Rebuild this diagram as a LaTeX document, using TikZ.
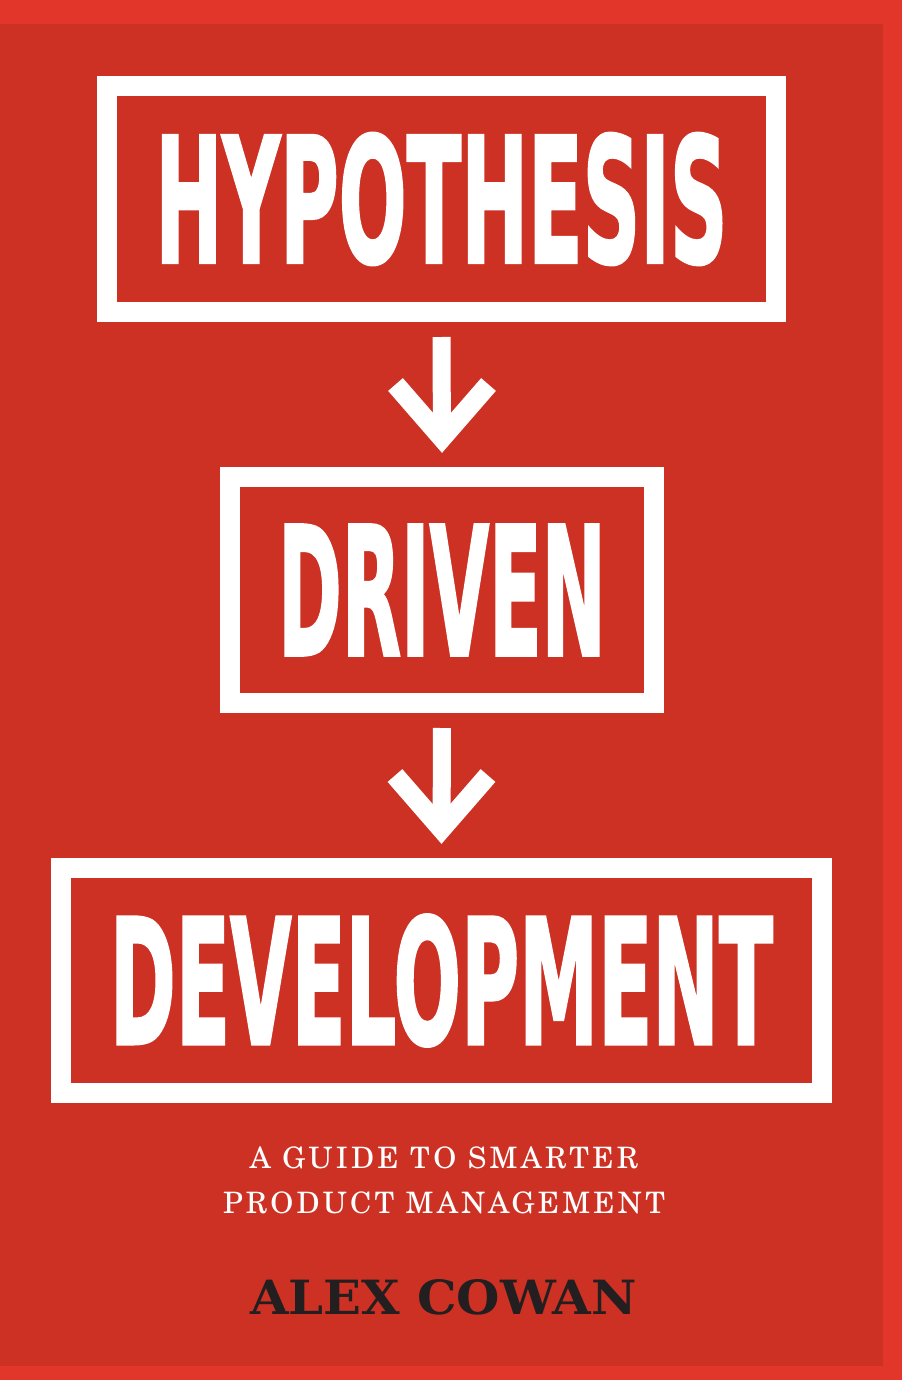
\documentclass[tikz,border=0pt]{standalone}
\usepackage{fontspec}
\usepackage{graphicx}
\usepackage{tikz}
\usetikzlibrary{calc}
\newfontfamily\titlefont{DejaVu Sans}[BoldFeatures={FakeBold=2}]
\newfontfamily\subfont{texgyreschola-regular.otf}[LetterSpace=11]
\newfontfamily\namefont{DejaVu Serif}
\definecolor{edge}{HTML}{E2362A}
\definecolor{cover}{HTML}{CD3124}
\definecolor{ink}{HTML}{231F20}
\newcommand{\boxtext}[3]{\resizebox{#1pt}{#2pt}{\titlefont\bfseries #3}}
\tikzset{
  titlebox/.style={draw=white, line width=20pt, inner sep=0pt, text=white},
  shaft/.style={draw=white, line width=18pt, shorten <=15pt, shorten >=35pt},
  chev/.style={draw=white, line width=19.5pt, line join=miter},
  sub/.style={text=white, font=\subfont\fontsize{29.5}{36}\selectfont, anchor=base},
  authorname/.style={text=ink, anchor=base, inner sep=0pt}
}

\begin{document}
\begin{tikzpicture}[x=1pt, y=-1pt]
\useasboundingbox (0,0) rectangle (902,1380);
\fill[edge] (0,0) rectangle (902,1380);
\fill[cover] (0,24) rectangle (883,1366);

\node[titlebox, minimum width=669pt, minimum height=226pt] (hyp) at (441.5,199) {\boxtext{572}{129}{HYPOTHESIS}};
\node[titlebox, minimum width=424pt, minimum height=226pt] (drv) at (442,590) {\boxtext{328}{130}{DRIVEN}};
\node[titlebox, minimum width=761pt, minimum height=225pt] (dev) at (441.5,980.5) {\boxtext{663}{129}{DEVELOPMENT}};

\foreach \a/\b in {hyp/drv, drv/dev}{
  \draw[shaft] (\a.south) -- (\b.north);
  \draw[chev] ([shift={(-46.5pt,82.5pt)}]\b.north) -- ([yshift=29pt]\b.north) -- ([shift={(46.5pt,82.5pt)}]\b.north);
}

\node[sub] (sub1) at (444,1168) {A GUIDE TO SMARTER};
\node[sub] (sub2) at (444,1213) {PRODUCT MANAGEMENT};
\node[authorname] (auth) at (443.5,1314) {\resizebox{387pt}{35pt}{\namefont\bfseries ALEX COWAN}};
\end{tikzpicture}
\end{document}
